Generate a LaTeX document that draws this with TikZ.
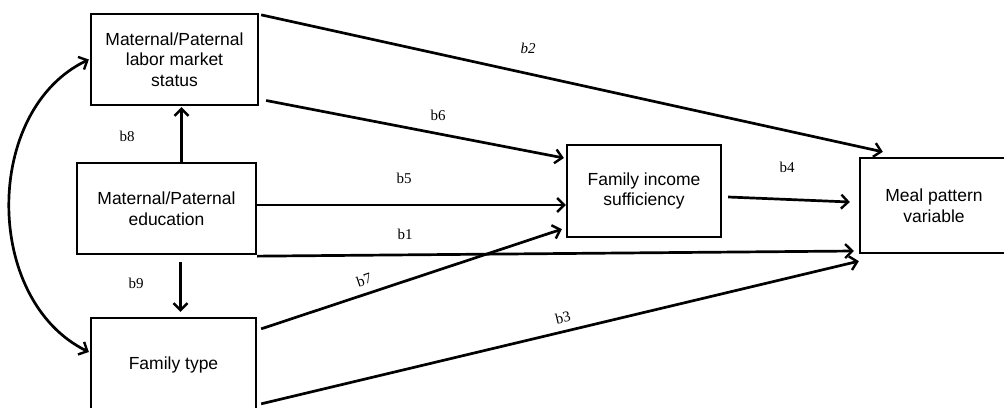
\documentclass[tikz,border=0pt]{standalone}
\usepackage{fontspec}
\setmainfont{Liberation Serif}
\newfontfamily\arialf{Liberation Sans}
\usetikzlibrary{arrows.meta,calc}
\tikzset{
  box/.style={draw, line width=2.3pt, rectangle, align=center, inner sep=0pt,
    font=\arialf\fontsize{17.5}{20.5}\selectfont},
  tip/.style={},
  arr/.style={line width=2.7pt, -{Straight Barb[length=7pt,width=14pt,line width=2.4pt]}},
  darr/.style={line width=2.7pt, {Straight Barb[length=7pt,width=14pt,line width=2.4pt]}-{Straight Barb[length=7pt,width=14pt,line width=2.4pt]}},
  lab/.style={font=\fontsize{15}{16}\selectfont, inner sep=0pt}
}
\begin{document}
\begin{tikzpicture}[x=1pt,y=-1pt]
\useasboundingbox (0,0) rectangle (1004,407);
\fill[white] (0,0) rectangle (1004,407);
% boxes
\node[box, minimum width=167pt, minimum height=91pt] (labor) at (174.5,59.5) {Maternal/Paternal\\labor market\\status};
\node[box, minimum width=179pt, minimum height=91pt] (edu) at (166.5,208.5) {Maternal/Paternal\\education};
\node[box, minimum width=165pt, minimum height=94pt, label={[font=\arialf\fontsize{17.5}{20.5}\selectfont, inner sep=0pt]center:\raisebox{1pt}{Family type}}] (ftype) at (173.5,365) {};
\node[box, minimum width=154pt, minimum height=92pt] (income) at (644,191) {Family income\\sufficiency};
\node[box, minimum width=148pt, minimum height=95pt] (meal) at (934,205.5) {Meal pattern\\variable};
% arrows
\draw[arr] ($(edu.north)+(15,0)$) -- ($(labor.south)+(7,1)$);
\draw[arr] ($(edu.south)+(14,7)$) -- ($(ftype.north)+(7,-5)$);
\draw[darr] ($(labor.west)+(-1,0)$) .. controls (-17,110) and (-17,300) .. ($(ftype.west)+(-1,-13)$);
\draw[arr] ($(labor.north east)+(2,2)$) -- ($(meal.north west)+(24,-5)$);
\draw[arr] ($(labor.east)+(7,41)$) -- ($(income.west)+(-2,-33)$);
\draw[arr] ($(edu.east)+(0,-3.5)$) -- ($(income.west)+(0,14)$);
\draw[arr] ($(edu.south east)+(0,1)$) -- ($(meal.west)+(-5,45.5)$);
\draw[arr] ($(ftype.north east)+(4,12)$) -- ($(income.south west)+(-4,-9)$);
\draw[arr] ($(ftype.north east)+(4,87)$) -- ($(meal.south west)+(0,7)$);
\draw[arr] ($(income.east)+(6,6)$) -- ($(meal.west)+(-9,-3.5)$);
% labels
\node[lab] (lb8) at (127,136) {b8};
\node[lab] (lb9) at (136,283) {b9};
\node[lab, font=\itshape\fontsize{15}{16}\selectfont] (lb2) at (528,48) {b2};
\node[lab] (lb6) at (438,115) {b6};
\node[lab] (lb5) at (404,178) {b5};
\node[lab] (lb1) at (405,234) {b1};
\node[lab, rotate=18.6] (lb7) at (364,280) {b7};
\node[lab, rotate=13.6] (lb3) at (563,318) {b3};
\node[lab] (lb4) at (787,167) {b4};
\end{tikzpicture}
\end{document}
